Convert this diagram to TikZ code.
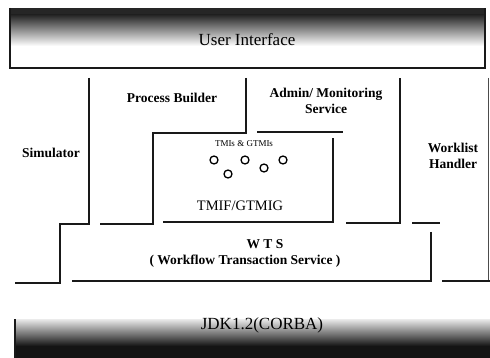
\documentclass[tikz,border=0pt]{standalone}
\usepackage{fontspec}
\setmainfont{Liberation Serif}
\begin{document}
\begin{tikzpicture}[x=1pt,y=-1pt,
  wall/.style={line width=1.3pt, draw=black!90},
  lbl/.style={font=\fontsize{13.5}{16.5}\selectfont\bfseries, align=center, inner sep=0pt},
  big/.style={font=\fontsize{17}{19}\selectfont, inner sep=0pt},
  tmi/.style={draw, line width=1.3pt, circle, minimum size=8pt, inner sep=0pt}]
\useasboundingbox (0,0) rectangle (490,358);
\fill[white] (0,0) rectangle (490,358);
% User interface band
\fill[black!85] (10,8) rectangle (485,15);
\shade[top color=black!85, bottom color=white] (10,15) rectangle (485,46);
\draw[wall] (10,8) -- (10,68) -- (485,68) -- (485,8);
\node[big] (ui) at (247,40) {User Interface};
% JDK band
\shade[top color=black!8, bottom color=black!92] (15,319) rectangle (490,346);
\fill[black!92] (15,346) rectangle (490,358);
\draw[wall] (15,319) -- (15,358);
\node[big] (jdk) at (262,325) {JDK1.2(CORBA)};
% Simulator boundary
\draw[wall] (89,78) -- (89,224) -- (60,224) -- (60,283) -- (15,283);
% Process builder boundary
\draw[wall] (246,78) -- (246,133) -- (153,133) -- (153,224) -- (100,224);
% TMIF box
\draw[wall] (163,222) -- (333,222) -- (333,138);
% Admin boundary
\draw[wall] (257,132) -- (343,132);
\draw[wall] (346,223) -- (400,223) -- (400,78);
% Worklist boundary
\draw[wall] (412,223) -- (440,223);
\draw[line width=0.8pt, draw=black!70] (488,78) -- (488,281);
% WTS
\draw[wall] (431,232) -- (431,281) -- (72,281);
\draw[wall] (442,281) -- (490,281);
% labels
\node[lbl] (sim) at (51,153) {Simulator};
\node[lbl] (pb) at (172,98) {Process Builder};
\node[lbl] (adm) at (326,101) {Admin/ Monitoring\\Service};
\node[lbl] (wl) at (453,156) {Worklist\\Handler};
\node[font=\fontsize{9}{10}\selectfont, inner sep=0pt] (tmis) at (244,144) {TMIs \& GTMIs};
\node[tmi] (c1) at (214,160) {};
\node[tmi] (c2) at (245,160) {};
\node[tmi] (c3) at (283,160) {};
\node[tmi] (c4) at (228,174) {};
\node[tmi] (c5) at (264,168) {};
\node[font=\fontsize{14.5}{16}\selectfont, inner sep=0pt] (tmif) at (240,206) {TMIF/GTMIG};
\node[lbl] (wts) at (265,244) {W T S};
\node[lbl] (wtsname) at (245,261) {( Workflow Transaction Service )};
\end{tikzpicture}
\end{document}
